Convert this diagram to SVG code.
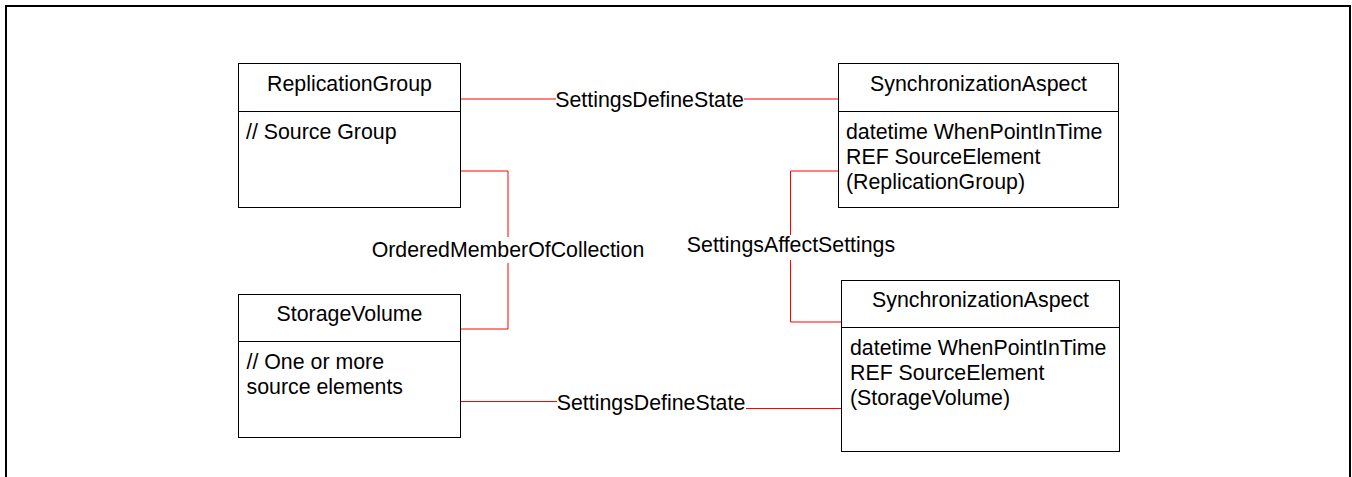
<svg xmlns="http://www.w3.org/2000/svg" width="1352" height="477" viewBox="0 0 1352 477">
<style>
  text { font-family: "Liberation Sans", Arial, sans-serif; font-size: 21.33px; fill: #000; }
  .title { text-anchor: middle; }
  .lbl { text-anchor: middle; }
  .box { fill: #fff; stroke: #000; stroke-width: 1; }
  .div { stroke: #000; stroke-width: 1; }
  .conn { fill: none; stroke: #ff0000; stroke-width: 1; }
  .bg { fill: #fff; stroke: none; }
</style>
<rect x="0" y="0" width="1352" height="477" fill="#fff"/>
<rect x="6" y="6" width="1344" height="490" fill="none" stroke="#000" stroke-width="2"/>

<g id="connectors">
  <path class="conn" d="M460.5 99 H838.5"/>
  <path class="conn" d="M460.5 171 H508 V329 H460.5"/>
  <path class="conn" d="M838.5 171 H790.5 V322 H841.5"/>
  <path class="conn" d="M460.5 401.5 H651 V408.5 H841.5"/>
  <g id="conn-labels">
    <rect class="bg" x="556" y="89" width="188" height="21"/>
    <text class="lbl" x="649.5" y="106.5">SettingsDefineState</text>
    <rect class="bg" x="372" y="237" width="273" height="26"/>
    <text class="lbl" x="508" y="256.5">OrderedMemberOfCollection</text>
    <rect class="bg" x="686" y="235" width="210" height="25"/>
    <text class="lbl" x="791" y="252">SettingsAffectSettings</text>
    <rect class="bg" x="557" y="392" width="189" height="22"/>
    <text class="lbl" x="651" y="410">SettingsDefineState</text>
  </g>
</g>

<g id="ReplicationGroup">
  <rect class="box" x="238.5" y="63.5" width="222" height="144"/>
  <line class="div" x1="238.5" y1="111.5" x2="460.5" y2="111.5"/>
  <text class="title" x="349.5" y="91">ReplicationGroup</text>
  <text x="246" y="139">// Source Group</text>
</g>

<g id="SynchronizationAspect1">
  <rect class="box" x="838.5" y="63.5" width="280" height="144"/>
  <line class="div" x1="838.5" y1="111.5" x2="1118.5" y2="111.5"/>
  <text class="title" x="978.5" y="91">SynchronizationAspect</text>
  <text x="846" y="138.5">datetime WhenPointInTime</text>
  <text x="846" y="163.5">REF SourceElement</text>
  <text x="846" y="188.5">(ReplicationGroup)</text>
</g>

<g id="StorageVolume">
  <rect class="box" x="238.5" y="294.5" width="222" height="143"/>
  <line class="div" x1="238.5" y1="341.5" x2="460.5" y2="341.5"/>
  <text class="title" x="349.5" y="321">StorageVolume</text>
  <text x="246.5" y="369">// One or more</text>
  <text x="246.5" y="393.5">source elements</text>
</g>

<g id="SynchronizationAspect2">
  <rect class="box" x="841.5" y="280.5" width="278" height="171"/>
  <line class="div" x1="841.5" y1="327.5" x2="1119.5" y2="327.5"/>
  <text class="title" x="980.5" y="307">SynchronizationAspect</text>
  <text x="850" y="354.5">datetime WhenPointInTime</text>
  <text x="850" y="379.5">REF SourceElement</text>
  <text x="850" y="404.5">(StorageVolume)</text>
</g>
</svg>
